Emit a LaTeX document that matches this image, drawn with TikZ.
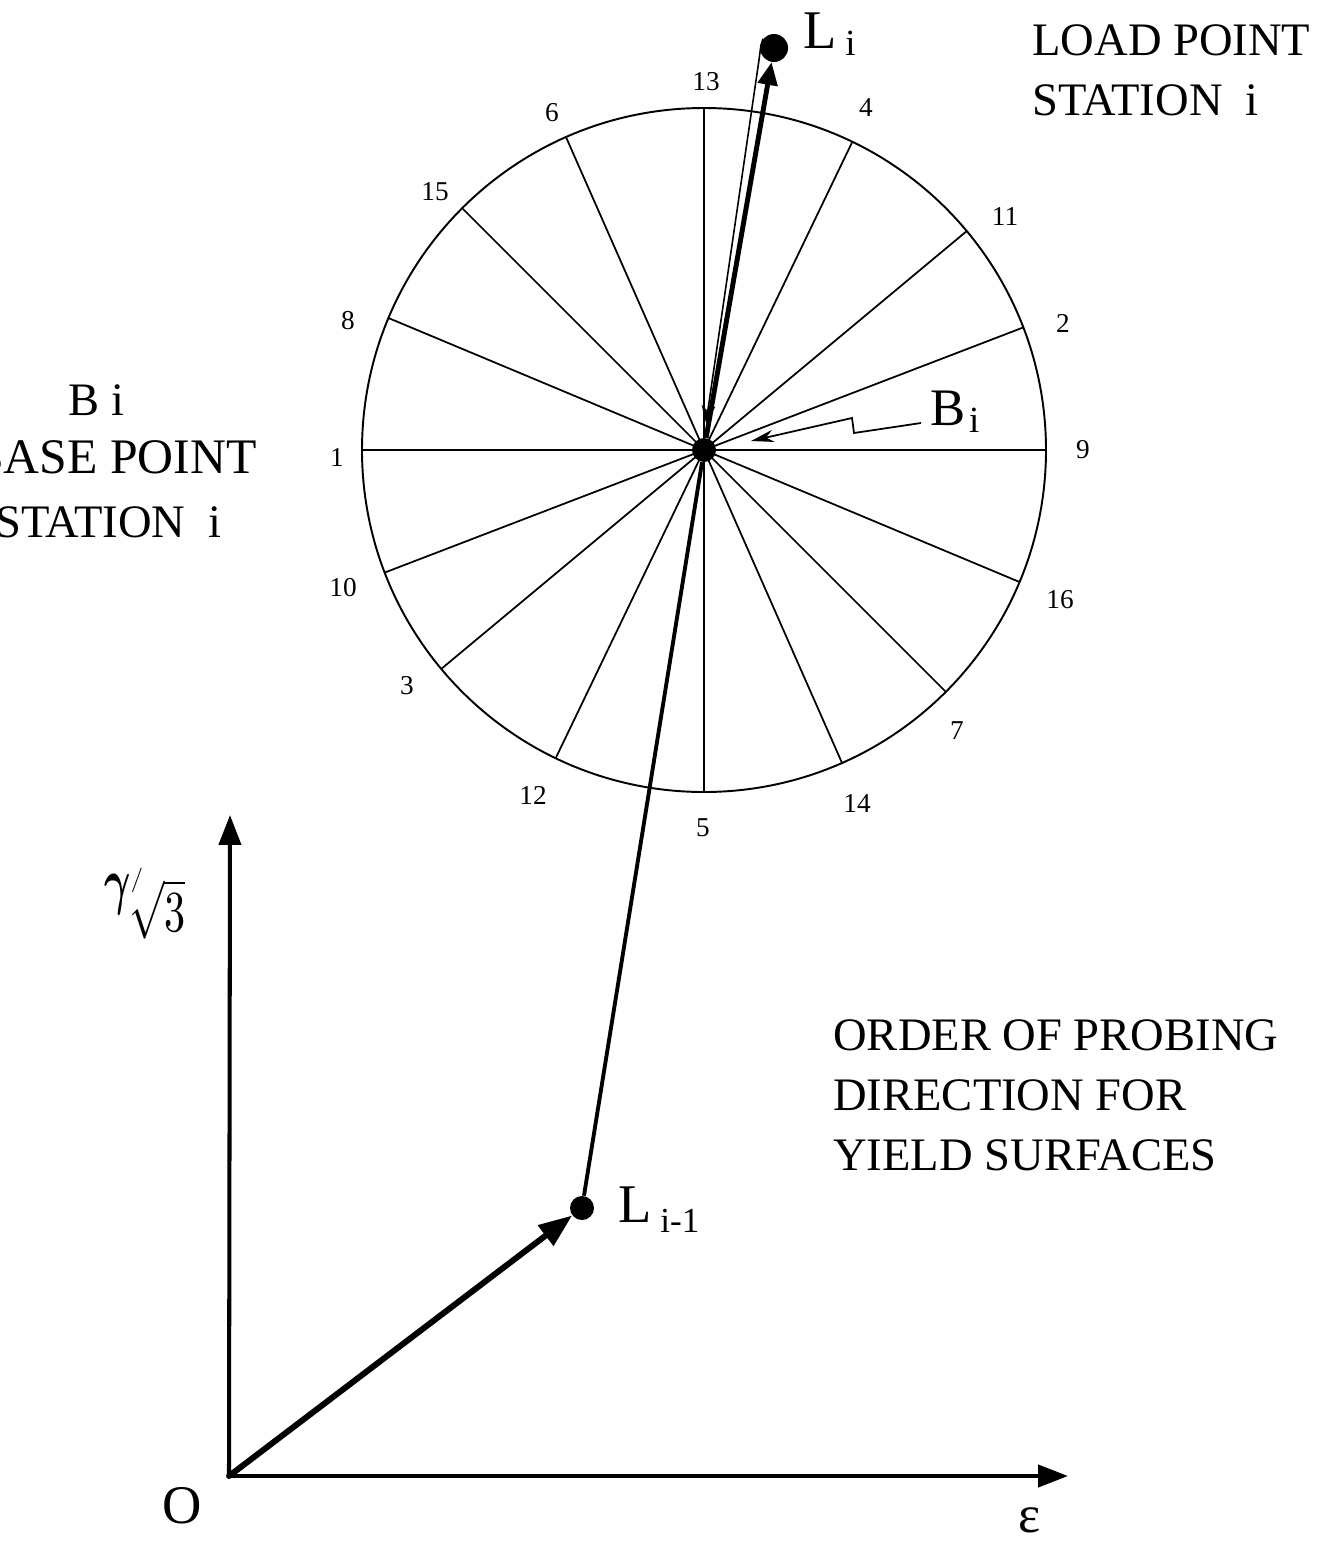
\documentclass[tikz,border=0pt]{standalone}
\usepackage{amsmath}
\usepackage{fontspec}
\setmainfont{Liberation Serif}
\usetikzlibrary{arrows.meta,calc}
\tikzset{
  num/.style={font=\fontsize{15.5}{16}\selectfont, inner sep=0pt},
  lbl/.style={font=\fontsize{26.5}{28}\selectfont, inner sep=0pt},
  big/.style={font=\fontsize{31}{33}\selectfont, inner sep=0pt},
  dotnode/.style={circle, fill=black, inner sep=0pt},
  axis/.style={line width=2.3pt, -{Triangle[length=17pt,width=12.5pt]}},
  spoke/.style={line width=1pt},
}
\newcommand{\subi}[2]{\kern#1\raisebox{-#2}{\fontsize{21}{22}\selectfont i}}
\begin{document}
\begin{tikzpicture}[x=0.02cm,y=-0.02cm]
\useasboundingbox (0,0) rectangle (1326,1542);

% circle and spokes (angles measured clockwise on the page, y points down)
\coordinate (C) at (704,450);
\draw[line width=1.1pt] (C) circle[radius=342];
\foreach \a in {0,-21,-39.8,-64.3,-90,-113.8,-135,-157.3}{
  \draw[spoke] ($(C)+(\a:342)$) -- ($(C)+(\a+180:342)$);
}

% direction numbers
\node[num] (n13) at (706,82) {13};
\node[num] (n4) at (866,108) {4};
\node[num] (n11) at (1005,217) {11};
\node[num] (n2) at (1063,323) {2};
\node[num] (n9) at (1083,450) {9};
\node[num] (n16) at (1060,600) {16};
\node[num] (n7) at (957,731) {7};
\node[num] (n14) at (857,803) {14};
\node[num] (n5) at (703,828) {5};
\node[num] (n12) at (533,795) {12};
\node[num] (n3) at (407,686) {3};
\node[num] (n10) at (343,588) {10};
\node[num] (n1) at (337,458) {1};
\node[num] (n8) at (348,321) {8};
\node[num] (n15) at (435,192) {15};
\node[num] (n6) at (552,113) {6};

% points
\coordinate (O) at (229,1476);
\node[dotnode, minimum size=0.48cm] (B) at (704,450) {};
\node[dotnode, minimum size=0.48cm] (Lm) at (582,1208) {};
\node[dotnode, minimum size=0.56cm] (Li) at (774,48) {};
\coordinate (Ytip) at (230,815);
\coordinate (Xtip) at (1068,1476);
\coordinate (Btip) at (706,423);

% axes
\draw[axis, line cap=round] (O) -- (Ytip);
\draw[axis, line cap=round] (O) -- (Xtip);

% load path
\draw[line width=3.4pt, line cap=round, -{Triangle[length=19pt,width=14pt]}] (O) -- (Lm);
\draw[line width=2.2pt] (Lm) -- (B);
\draw[line width=2.8pt, -{Triangle[length=13pt,width=11pt]}] (B) -- (Li);
\draw[line width=0.9pt, -{Stealth[length=10pt,width=8pt]}] (Li.140) .. controls (761,44) .. (759,60) -- (Btip);

% zigzag pointer
\coordinate (zz) at (921,423);
\coordinate (zt) at (751,441);
\draw[line width=1pt, -{Stealth[length=13pt,width=7pt]}] (zz) -- (854,433) -- (852,418) -- (zt);

% labels
\node[big, anchor=base west] (LiL) at (803,48) {L\subi{5pt}{4pt}};
\node[big, anchor=base west] (BiR) at (930,425) {\fontsize{30}{32}\selectfont B\subi{2pt}{4.5pt}};
\node[big, anchor=base west] (LmL) at (618,1222) {L\kern5pt\raisebox{-6.2pt}{\fontsize{20}{21}\selectfont i-1}};
\node[big] (Olbl) at (182,1506) {O};
\node[font=\fontsize{30}{32}\selectfont, inner sep=0pt] (eps) at (1030,1520) {ε};

% gamma / sqrt 3 axis label
\node[inner sep=0pt, anchor=base west] (gam) at (104,902)
  {\scalebox{2.3}[3.6]{$\boldsymbol{\gamma}$}\kern0pt\raisebox{9pt}{\scalebox{1.4}{$/$}}\kern-8pt\raisebox{-17pt}{\scalebox{2.4}[3.3]{$\sqrt{3}$}}};

\node[lbl, anchor=base west] (lp1) at (1032,55) {LOAD POINT};
\node[lbl, anchor=base west] (lp2) at (1032,115) {STATION~~i};
\node[lbl, anchor=base west] (bp0) at (68,415) {B i};
\node[lbl, anchor=base east, font=\fontsize{28.3}{29}\selectfont] (bp1) at (257,473) {BASE POINT};
\node[lbl, anchor=base east] (bp2) at (222,537) {STATION~~i};
\node[lbl, anchor=base west] (or1) at (833,1050) {ORDER OF PROBING};
\node[lbl, anchor=base west] (or2) at (833,1110) {DIRECTION FOR};
\node[lbl, anchor=base west] (or3) at (833,1170) {YIELD SURFACES};
\end{tikzpicture}
\end{document}
